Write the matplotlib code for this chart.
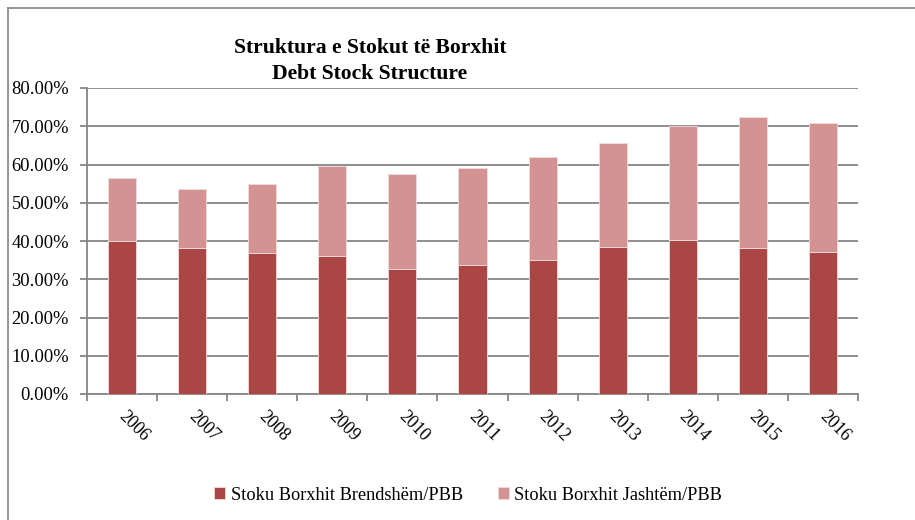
import numpy as np
import matplotlib.pyplot as plt
import matplotlib.transforms as mtransforms
from matplotlib.lines import Line2D

years = ['2006', '2007', '2008', '2009', '2010', '2011', '2012', '2013', '2014', '2015', '2016']
domestic = [39.9, 38.2, 36.9, 36.1, 32.7, 33.7, 35.1, 38.5, 40.2, 38.2, 37.2]
total = [56.6, 53.5, 55.0, 59.7, 57.6, 59.2, 62.0, 65.5, 70.1, 72.5, 70.9]
external = [t - d for t, d in zip(total, domestic)]

plt.rcParams['font.family'] = ['Liberation Serif', 'DejaVu Serif']
grid_col = '#868686'

fig = plt.figure(figsize=(9.15, 5.2), dpi=100)
ax = fig.add_axes([87 / 915, 1 - 394 / 520, (858 - 87) / 915, (394 - 88) / 520])

x = np.arange(len(years))
ax.bar(x, domestic, width=0.4, color='#AA4643', edgecolor='#F2DCDB', linewidth=0.6,
       label='Stoku Borxhit Brendshëm/PBB', zorder=3)
ax.bar(x, external, width=0.4, bottom=domestic, color='#D39392', edgecolor='#F2DCDB',
       linewidth=0.6, label='Stoku Borxhit Jashtëm/PBB', zorder=3)

ax.set_xlim(-0.5, len(years) - 0.5)
ax.set_ylim(0, 80)
ax.set_yticks(np.arange(0, 81, 10))
ax.set_yticklabels(['%.2f%%' % v for v in np.arange(0, 81, 10)], fontsize=13.3)
ax.yaxis.grid(True, color=grid_col, linewidth=1.3, zorder=0)
ax.set_axisbelow(True)

# ticks between categories, labels at centres
ax.set_xticks(np.arange(-0.5, len(years), 1.0))
ax.set_xticklabels([])
ax.set_xticks(x, minor=True)
ax.set_xticklabels(years, minor=True, rotation=-45, ha='left', va='top',
                   rotation_mode='anchor', fontsize=12.8)
ax.tick_params(axis='x', which='minor', length=0, pad=10)
ax.tick_params(axis='x', which='major', length=5, width=1.3, color=grid_col)
ax.tick_params(axis='y', length=5, width=1.3, color=grid_col, pad=8)
shift = mtransforms.ScaledTranslation(5 / 100, 0, fig.dpi_scale_trans)
for lab in ax.get_xticklabels(minor=True):
    lab.set_transform(lab.get_transform() + shift)

for s in ['top', 'right']:
    ax.spines[s].set_visible(False)
for s in ['left', 'bottom']:
    ax.spines[s].set_color(grid_col)
    ax.spines[s].set_linewidth(1.3)

fig.text(370 / 915, 1 - 53 / 520, 'Struktura e Stokut të Borxhit', ha='center',
         va='baseline', fontsize=15.6, fontweight='bold')
fig.text(370 / 915, 1 - 79 / 520, 'Debt Stock Structure', ha='center',
         va='baseline', fontsize=15.6, fontweight='bold')

# chart area border (top and left only visible)
fig.add_artist(Line2D([7.5 / 915, 7.5 / 915], [0, 1 - 7.5 / 520], color='#8C8C8C',
                      linewidth=1.3, transform=fig.transFigure))
fig.add_artist(Line2D([7.5 / 915, 1], [1 - 7.5 / 520, 1 - 7.5 / 520], color='#8C8C8C',
                      linewidth=1.3, transform=fig.transFigure))

fig.legend(loc='center', bbox_to_anchor=(468 / 915, 1 - 495 / 520), ncol=2,
           frameon=False, fontsize=13.2, handlelength=0.6, handleheight=0.6,
           handletextpad=0.3, columnspacing=1.9)

fig.savefig('out.png', dpi=100)
